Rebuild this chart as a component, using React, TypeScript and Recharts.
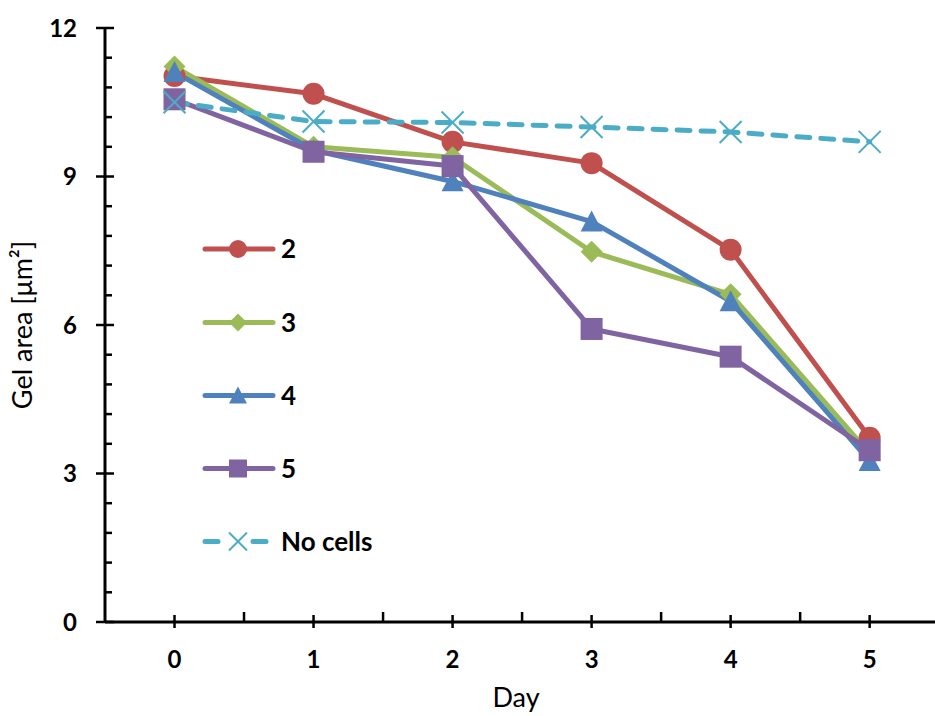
import React from 'react';
import { LineChart, Line, XAxis, YAxis, Legend } from 'recharts';

const days = [0, 1, 2, 3, 4, 5];
const series2 = [11.03, 10.67, 9.7, 9.27, 7.52, 3.72];
const series3 = [11.22, 9.6, 9.39, 7.48, 6.62, 3.4];
const series4 = [11.11, 9.53, 8.9, 8.09, 6.48, 3.25];
const series5 = [10.56, 9.5, 9.21, 5.92, 5.36, 3.47];
const noCells = [10.5, 10.11, 10.09, 10.0, 9.9, 9.7];

const xTicks = [0, 0.5, 1, 1.5, 2, 2.5, 3, 3.5, 4, 4.5, 5];
const yTicks = [0, 0.6, 1.2, 1.8, 2.4, 3, 3.6, 4.2, 4.8, 5.4, 6, 6.6, 7.2, 7.8, 8.4, 9, 9.6, 10.2, 10.8, 11.4, 12];
const yMajor = [0, 3, 6, 9, 12];

const data = days.map((d, i) => ({
  day: d,
  s2: series2[i],
  s3: series3[i],
  s4: series4[i],
  s5: series5[i],
  nc: noCells[i],
}));

const FONT = 'Lato, "Open Sans", sans-serif';

type Shape = 'circle' | 'diamond' | 'triangle' | 'square' | 'x';

const seriesCfg: { key: string; name: string; color: string; shape: Shape; dashed?: boolean }[] = [
  { key: 's2', name: '2', color: '#C0504D', shape: 'circle' },
  { key: 's3', name: '3', color: '#9BBB59', shape: 'diamond' },
  { key: 's4', name: '4', color: '#4F81BD', shape: 'triangle' },
  { key: 's5', name: '5', color: '#8064A2', shape: 'square' },
  { key: 'nc', name: 'No cells', color: '#4BACC6', shape: 'x', dashed: true },
];

function marker(shape: Shape, cx: number, cy: number, s: number, color: string, key?: any) {
  switch (shape) {
    case 'circle':
      return <circle key={key} cx={cx} cy={cy} r={s} fill={color} />;
    case 'diamond':
      return (
        <polygon key={key} points={`${cx},${cy - s} ${cx + s},${cy} ${cx},${cy + s} ${cx - s},${cy}`} fill={color} />
      );
    case 'triangle':
      return (
        <polygon key={key} points={`${cx},${cy - s} ${cx + s},${cy + s * 0.9} ${cx - s},${cy + s * 0.9}`} fill={color} />
      );
    case 'square':
      return <rect key={key} x={cx - s} y={cy - s} width={2 * s} height={2 * s} fill={color} />;
    case 'x':
      return (
        <g key={key}>
          <line x1={cx - s} y1={cy - s} x2={cx + s} y2={cy + s} stroke={color} strokeWidth={2} />
          <line x1={cx - s} y1={cy + s} x2={cx + s} y2={cy - s} stroke={color} strokeWidth={2} />
        </g>
      );
  }
  return null;
}

const makeDot = (shape: Shape, color: string) => (props: any) => {
  const { cx, cy, index } = props;
  if (cx == null || cy == null) return <g key={index} />;
  return marker(shape, cx, cy, 11, color, index);
};

const XTick = (props: any) => {
  const { x, y, payload } = props;
  const v = payload.value;
  if (Number.isInteger(v)) {
    return (
      <g>
        <line x1={x} x2={x} y1={y - 7} y2={y + 6} stroke="#000" strokeWidth={2.5} />
        <text x={x} y={y + 46} textAnchor="middle" fontFamily={FONT} fontWeight={700} fontSize={24} fill="#000">
          {v}
        </text>
      </g>
    );
  }
  return <line x1={x} x2={x} y1={y} y2={y - 10} stroke="#000" strokeWidth={2.5} />;
};

const YTick = (props: any) => {
  const { x, y, payload } = props;
  const v = payload.value;
  const isMajor = yMajor.some((m) => Math.abs(m - v) < 1e-6);
  if (isMajor) {
    return (
      <g>
        <line x1={x - 9} x2={x + 9} y1={y} y2={y} stroke="#000" strokeWidth={2.5} />
        <text x={x - 28} y={y + 8.5} textAnchor="end" fontFamily={FONT} fontWeight={700} fontSize={24} fill="#000">
          {Math.round(v)}
        </text>
      </g>
    );
  }
  return <line x1={x} x2={x + 7} y1={y} y2={y} stroke="#000" strokeWidth={2.5} />;
};

const LegendContent = () => {
  const rows = [249, 322.5, 395.5, 468.5, 541.5];
  return (
    <svg width={935} height={716} style={{ display: 'block' }}>
      {seriesCfg.map((s, i) => {
        const cy = rows[i];
        return (
          <g key={s.key}>
            {s.dashed ? (
              <g>
                <line x1={205} x2={218} y1={cy} y2={cy} stroke={s.color} strokeWidth={5} strokeLinecap="round" />
                <line x1={253} x2={266} y1={cy} y2={cy} stroke={s.color} strokeWidth={5} strokeLinecap="round" />
              </g>
            ) : (
              <line x1={205} x2={273} y1={cy} y2={cy} stroke={s.color} strokeWidth={5} strokeLinecap="round" />
            )}
            {marker(s.shape, 238, cy, 9, s.color)}
            <text x={281} y={cy + 9} fontFamily={FONT} fontWeight={700} fontSize={26} fill="#000">
              {s.name}
            </text>
          </g>
        );
      })}
    </svg>
  );
};

const YLabel = () => (
  <text
    x={32}
    y={325}
    transform="rotate(-90, 32, 325)"
    textAnchor="middle"
    fontFamily={FONT}
    fontSize={27}
    fill="#000"
  >
    Gel area [μm²]
  </text>
);

const XLabel = () => (
  <text x={516} y={707} textAnchor="middle" fontFamily={FONT} fontSize={27} fill="#000">
    Day
  </text>
);

export default function App() {
  return (
    <div style={{ position: 'absolute', left: 0, top: 0, width: 935, height: 716, background: '#fff' }}>
      <LineChart width={935} height={716} data={data} margin={{ top: 28, right: 0, bottom: 0, left: 0 }}>
        <XAxis
          dataKey="day"
          type="number"
          domain={[-0.5, 5.47]}
          allowDataOverflow
          ticks={xTicks}
          interval={0}
          height={94}
          tickSize={0}
          tickMargin={0}
          tickLine={false}
          axisLine={{ stroke: '#000', strokeWidth: 3 }}
          tick={<XTick />}
          label={<XLabel />}
        />
        <YAxis
          type="number"
          domain={[0, 12]}
          allowDataOverflow
          ticks={yTicks}
          interval={0}
          width={105}
          tickSize={0}
          tickMargin={0}
          tickLine={false}
          axisLine={{ stroke: '#000', strokeWidth: 3 }}
          tick={<YTick />}
          label={<YLabel />}
        />
        <Legend
          layout="vertical"
          align="center"
          verticalAlign="middle"
          content={<LegendContent />}
          wrapperStyle={{ position: 'absolute', left: 0, top: 0, width: 935, height: 716, pointerEvents: 'none' }}
        />
        {seriesCfg.map((s) => (
          <Line
            key={s.key}
            dataKey={s.key}
            name={s.name}
            type="linear"
            stroke={s.color}
            strokeWidth={5}
            strokeDasharray={s.dashed ? '13 11' : undefined}
            strokeLinecap="round"
            strokeLinejoin="round"
            dot={makeDot(s.shape, s.color)}
            activeDot={false}
            isAnimationActive={false}
          />
        ))}
      </LineChart>
    </div>
  );
}
